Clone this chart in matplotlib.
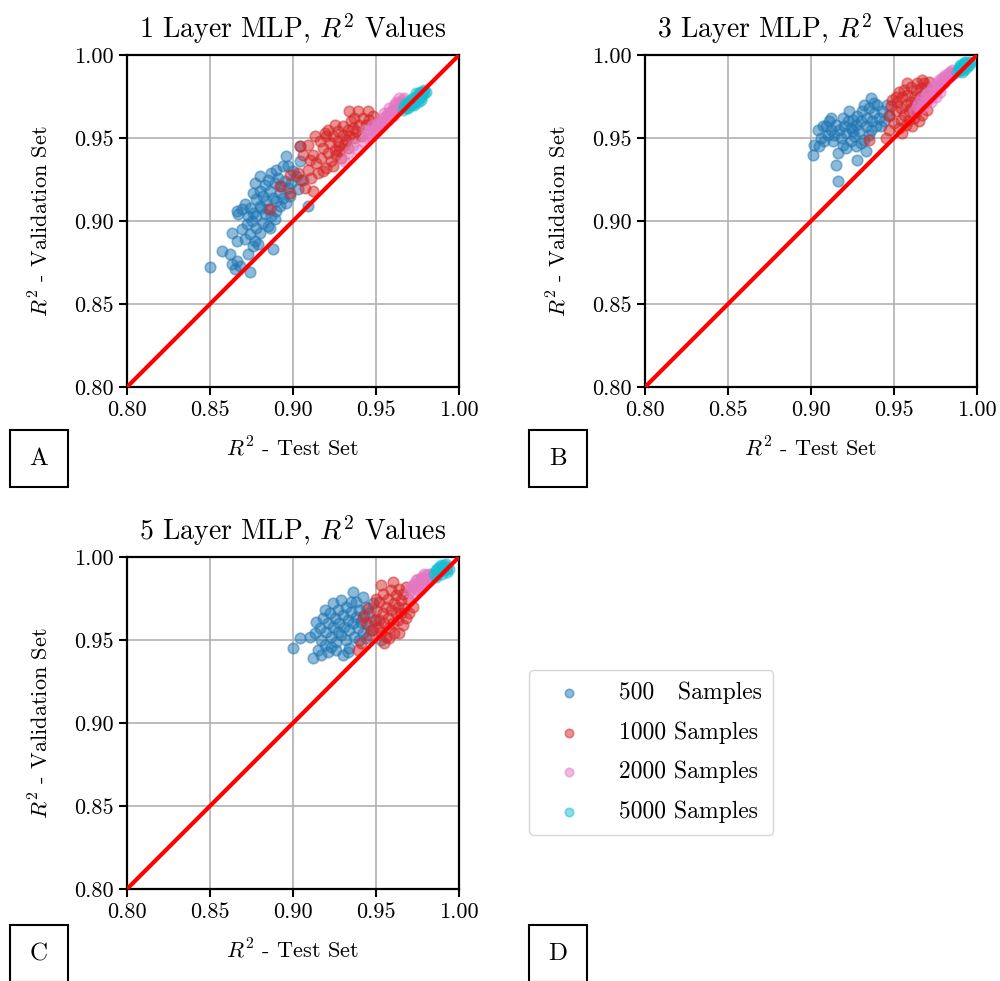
import numpy as np
import matplotlib
matplotlib.use("Agg")
import matplotlib.pyplot as plt
from matplotlib.patches import Rectangle

plt.rcParams.update({
    "font.family": "serif",
    "font.serif": ["cmr10", "DejaVu Serif"],
    "mathtext.fontset": "cm",
    "axes.unicode_minus": False,
    "axes.formatter.use_mathtext": True,
})

# (test R^2, validation R^2) pairs per model depth and training-set size
mlp1_500 = [
    (0.850, 0.872), (0.857, 0.882), (0.862, 0.880), (0.863, 0.874), (0.865, 0.871), (0.866, 0.876),
    (0.868, 0.873), (0.874, 0.869), (0.873, 0.880), (0.876, 0.885), (0.888, 0.883), (0.863, 0.893),
    (0.866, 0.888), (0.869, 0.895), (0.871, 0.889), (0.874, 0.892), (0.877, 0.888), (0.878, 0.896),
    (0.880, 0.893), (0.882, 0.899), (0.885, 0.897), (0.875, 0.900), (0.866, 0.906), (0.867, 0.904),
    (0.869, 0.907), (0.871, 0.910), (0.873, 0.903), (0.874, 0.908), (0.876, 0.905), (0.878, 0.903),
    (0.880, 0.909), (0.883, 0.904), (0.885, 0.907), (0.887, 0.903), (0.889, 0.901), (0.890, 0.906),
    (0.892, 0.909), (0.876, 0.917), (0.878, 0.913), (0.880, 0.918), (0.882, 0.915), (0.884, 0.912),
    (0.886, 0.918), (0.888, 0.914), (0.890, 0.912), (0.892, 0.917), (0.894, 0.914), (0.896, 0.911),
    (0.898, 0.915), (0.877, 0.923), (0.880, 0.927), (0.883, 0.922), (0.885, 0.925), (0.887, 0.929),
    (0.889, 0.923), (0.891, 0.926), (0.893, 0.921), (0.895, 0.924), (0.897, 0.920), (0.899, 0.923),
    (0.890, 0.931), (0.894, 0.933), (0.896, 0.939), (0.897, 0.933), (0.900, 0.930), (0.902, 0.927),
    (0.904, 0.936), (0.904, 0.945), (0.909, 0.909), (0.903, 0.919), (0.906, 0.925), (0.872, 0.898),
    (0.886, 0.896), (0.879, 0.886), (0.881, 0.908),
]
mlp1_1000 = [
    (0.886, 0.907), (0.892, 0.921), (0.898, 0.917), (0.898, 0.928), (0.903, 0.929), (0.905, 0.925),
    (0.907, 0.920), (0.909, 0.931), (0.912, 0.918), (0.911, 0.926), (0.904, 0.945), (0.909, 0.946),
    (0.912, 0.940), (0.914, 0.935), (0.915, 0.929), (0.917, 0.938), (0.918, 0.944), (0.920, 0.932),
    (0.921, 0.941), (0.922, 0.947), (0.923, 0.936), (0.924, 0.951), (0.925, 0.943), (0.926, 0.940),
    (0.927, 0.948), (0.928, 0.945), (0.929, 0.938), (0.930, 0.952), (0.931, 0.946), (0.932, 0.949),
    (0.921, 0.955), (0.920, 0.951), (0.925, 0.958), (0.927, 0.954), (0.930, 0.957), (0.933, 0.955),
    (0.934, 0.951), (0.935, 0.960), (0.936, 0.956), (0.938, 0.954), (0.934, 0.966), (0.939, 0.966),
    (0.945, 0.966), (0.942, 0.962), (0.940, 0.958), (0.944, 0.958), (0.946, 0.961), (0.948, 0.963),
    (0.937, 0.962), (0.941, 0.951), (0.916, 0.948), (0.913, 0.951), (0.919, 0.953), (0.928, 0.942),
    (0.924, 0.933), (0.918, 0.930), (0.910, 0.937), (0.933, 0.944), (0.937, 0.950), (0.906, 0.940),
]
mlp1_2000 = [
    (0.931, 0.936), (0.933, 0.941), (0.936, 0.946), (0.939, 0.943), (0.942, 0.948), (0.944, 0.955),
    (0.945, 0.950), (0.946, 0.953), (0.948, 0.955), (0.950, 0.957), (0.951, 0.959), (0.952, 0.956),
    (0.953, 0.960), (0.954, 0.962), (0.955, 0.960), (0.956, 0.963), (0.957, 0.965), (0.957, 0.961),
    (0.958, 0.964), (0.959, 0.966), (0.960, 0.967), (0.960, 0.963), (0.961, 0.968), (0.962, 0.966),
    (0.963, 0.969), (0.963, 0.971), (0.964, 0.968), (0.965, 0.972), (0.966, 0.970), (0.966, 0.973),
    (0.967, 0.974), (0.955, 0.965), (0.953, 0.957), (0.958, 0.968), (0.961, 0.970), (0.950, 0.954),
    (0.948, 0.958), (0.962, 0.972), (0.964, 0.974), (0.947, 0.951),
]
mlp1_5000 = [
    (0.966, 0.967), (0.967, 0.969), (0.968, 0.971), (0.969, 0.968), (0.970, 0.972), (0.970, 0.970),
    (0.971, 0.973), (0.972, 0.971), (0.972, 0.974), (0.973, 0.972), (0.974, 0.975), (0.974, 0.973),
    (0.975, 0.976), (0.975, 0.972), (0.976, 0.974), (0.976, 0.977), (0.977, 0.975), (0.977, 0.978),
    (0.978, 0.976), (0.978, 0.978), (0.979, 0.977), (0.979, 0.979), (0.980, 0.978), (0.973, 0.970),
    (0.975, 0.974), (0.971, 0.970), (0.969, 0.970), (0.977, 0.973), (0.968, 0.968), (0.974, 0.977),
]

mlp3_500 = [
    (0.901, 0.940), (0.902, 0.946), (0.905, 0.945), (0.906, 0.950), (0.904, 0.955), (0.907, 0.957),
    (0.909, 0.957), (0.910, 0.952), (0.911, 0.960), (0.912, 0.955), (0.913, 0.948), (0.914, 0.952),
    (0.915, 0.934), (0.916, 0.924), (0.916, 0.941), (0.915, 0.958), (0.917, 0.955), (0.918, 0.950),
    (0.919, 0.946), (0.920, 0.957), (0.921, 0.953), (0.922, 0.960), (0.923, 0.966), (0.924, 0.956),
    (0.925, 0.961), (0.926, 0.951), (0.927, 0.958), (0.928, 0.963), (0.928, 0.937), (0.929, 0.954),
    (0.930, 0.960), (0.931, 0.966), (0.932, 0.949), (0.933, 0.942), (0.933, 0.957), (0.934, 0.962),
    (0.935, 0.968), (0.936, 0.955), (0.936, 0.974), (0.937, 0.960), (0.938, 0.965), (0.939, 0.957),
    (0.940, 0.970), (0.941, 0.962), (0.942, 0.957), (0.943, 0.966), (0.944, 0.960), (0.946, 0.970),
    (0.947, 0.964), (0.925, 0.954), (0.930, 0.947), (0.919, 0.962), (0.912, 0.962), (0.924, 0.948),
    (0.935, 0.952), (0.938, 0.971), (0.927, 0.945), (0.921, 0.944), (0.908, 0.948), (0.932, 0.970),
]
mlp3_1000 = [
    (0.935, 0.949), (0.945, 0.950), (0.947, 0.955), (0.947, 0.963), (0.948, 0.969), (0.950, 0.959),
    (0.951, 0.966), (0.952, 0.972), (0.953, 0.956), (0.954, 0.961), (0.954, 0.968), (0.955, 0.975),
    (0.956, 0.979), (0.956, 0.964), (0.957, 0.958), (0.957, 0.970), (0.958, 0.976), (0.959, 0.966),
    (0.959, 0.961), (0.960, 0.972), (0.960, 0.981), (0.961, 0.968), (0.962, 0.975), (0.962, 0.962),
    (0.963, 0.979), (0.963, 0.971), (0.964, 0.983), (0.964, 0.966), (0.965, 0.960), (0.965, 0.975),
    (0.966, 0.980), (0.966, 0.970), (0.967, 0.985), (0.967, 0.964), (0.968, 0.977), (0.968, 0.983),
    (0.969, 0.972), (0.970, 0.967), (0.970, 0.980), (0.958, 0.983), (0.953, 0.978), (0.951, 0.975),
    (0.949, 0.973), (0.961, 0.957), (0.955, 0.953), (0.971, 0.984), (0.972, 0.976),
]
mlp3_2000 = [
    (0.962, 0.966), (0.964, 0.969), (0.965, 0.972), (0.966, 0.968), (0.967, 0.974), (0.968, 0.971),
    (0.969, 0.976), (0.970, 0.973), (0.971, 0.978), (0.972, 0.975), (0.973, 0.980), (0.974, 0.977),
    (0.974, 0.982), (0.975, 0.979), (0.976, 0.983), (0.977, 0.980), (0.977, 0.985), (0.978, 0.982),
    (0.979, 0.986), (0.979, 0.983), (0.980, 0.987), (0.981, 0.985), (0.981, 0.988), (0.982, 0.986),
    (0.983, 0.989), (0.983, 0.987), (0.984, 0.990), (0.985, 0.988), (0.985, 0.991), (0.986, 0.990),
    (0.970, 0.977), (0.975, 0.975), (0.978, 0.978), (0.972, 0.972), (0.980, 0.983),
]
mlp3_5000 = [
    (0.988, 0.990), (0.989, 0.992), (0.990, 0.991), (0.990, 0.993), (0.991, 0.992), (0.991, 0.994),
    (0.992, 0.993), (0.992, 0.995), (0.993, 0.994), (0.993, 0.992), (0.994, 0.995), (0.994, 0.993),
    (0.995, 0.996), (0.995, 0.994), (0.996, 0.995), (0.989, 0.991), (0.992, 0.991), (0.990, 0.994),
    (0.993, 0.996), (0.991, 0.990),
]

mlp5_500 = [
    (0.900, 0.945), (0.904, 0.951), (0.912, 0.939), (0.915, 0.944), (0.913, 0.954), (0.914, 0.961),
    (0.916, 0.957), (0.917, 0.950), (0.918, 0.963), (0.919, 0.947), (0.920, 0.955), (0.921, 0.943),
    (0.921, 0.960), (0.922, 0.966), (0.923, 0.952), (0.924, 0.972), (0.924, 0.958), (0.925, 0.963),
    (0.926, 0.949), (0.927, 0.955), (0.927, 0.968), (0.928, 0.960), (0.929, 0.953), (0.930, 0.941),
    (0.930, 0.965), (0.931, 0.958), (0.932, 0.970), (0.932, 0.950), (0.933, 0.962), (0.934, 0.945),
    (0.934, 0.956), (0.935, 0.967), (0.936, 0.979), (0.936, 0.960), (0.937, 0.952), (0.938, 0.964),
    (0.938, 0.973), (0.939, 0.957), (0.940, 0.968), (0.941, 0.961), (0.942, 0.976), (0.942, 0.954),
    (0.943, 0.965), (0.944, 0.970), (0.945, 0.959), (0.946, 0.966), (0.948, 0.972), (0.947, 0.956),
    (0.950, 0.962), (0.953, 0.950), (0.926, 0.944), (0.919, 0.968), (0.929, 0.974), (0.933, 0.943),
    (0.940, 0.950), (0.917, 0.941), (0.923, 0.946), (0.910, 0.952), (0.935, 0.973), (0.944, 0.951),
]
mlp5_1000 = [
    (0.939, 0.944), (0.941, 0.948), (0.942, 0.964), (0.944, 0.960), (0.946, 0.953), (0.948, 0.956),
    (0.949, 0.962), (0.950, 0.968), (0.951, 0.958), (0.952, 0.962), (0.952, 0.973), (0.953, 0.955),
    (0.954, 0.978), (0.954, 0.966), (0.955, 0.960), (0.956, 0.952), (0.956, 0.970), (0.957, 0.975),
    (0.957, 0.963), (0.958, 0.957), (0.959, 0.968), (0.959, 0.980), (0.960, 0.985), (0.960, 0.960),
    (0.961, 0.972), (0.961, 0.954), (0.962, 0.966), (0.962, 0.977), (0.963, 0.962), (0.963, 0.970),
    (0.964, 0.954), (0.964, 0.981), (0.965, 0.974), (0.965, 0.966), (0.966, 0.978), (0.966, 0.959),
    (0.967, 0.969), (0.968, 0.963), (0.969, 0.975), (0.970, 0.966), (0.955, 0.948), (0.958, 0.951),
    (0.945, 0.969), (0.950, 0.975), (0.972, 0.970), (0.968, 0.982), (0.953, 0.983),
]
mlp5_2000 = [
    (0.970, 0.979), (0.971, 0.982), (0.972, 0.978), (0.973, 0.984), (0.974, 0.981), (0.974, 0.986),
    (0.975, 0.983), (0.976, 0.985), (0.976, 0.980), (0.977, 0.987), (0.978, 0.984), (0.978, 0.988),
    (0.979, 0.986), (0.980, 0.989), (0.980, 0.985), (0.981, 0.987), (0.982, 0.990), (0.982, 0.986),
    (0.983, 0.988), (0.984, 0.990), (0.985, 0.989), (0.975, 0.987), (0.972, 0.983), (0.979, 0.990),
    (0.977, 0.982),
]
mlp5_5000 = [
    (0.985, 0.990), (0.986, 0.992), (0.987, 0.989), (0.987, 0.993), (0.988, 0.991), (0.988, 0.994),
    (0.989, 0.992), (0.990, 0.990), (0.990, 0.994), (0.991, 0.992), (0.991, 0.995), (0.992, 0.993),
    (0.993, 0.994), (0.993, 0.991), (0.994, 0.993), (0.986, 0.988), (0.989, 0.995), (0.992, 0.996),
]

sample_labels = ["500   Samples", "1000 Samples", "2000 Samples", "5000 Samples"]
colors = ["tab:blue", "tab:red", "tab:pink", "tab:cyan"]
titles = ["1 Layer MLP, $R^2$ Values", "3 Layer MLP, $R^2$ Values", "5 Layer MLP, $R^2$ Values"]
panels = [
    [mlp1_500, mlp1_1000, mlp1_2000, mlp1_5000],
    [mlp3_500, mlp3_1000, mlp3_2000, mlp3_5000],
    [mlp5_500, mlp5_1000, mlp5_2000, mlp5_5000],
]
ticks = [0.80, 0.85, 0.90, 0.95, 1.00]

fig = plt.figure(figsize=(10, 9.81), dpi=100)
axes_rects = [
    [0.127, 0.6055, 0.332, 0.3384],
    [0.645, 0.6055, 0.332, 0.3384],
    [0.127, 0.0938, 0.332, 0.3384],
]

handles = []
for i, (rect, title, series) in enumerate(zip(axes_rects, titles, panels)):
    ax = fig.add_axes(rect)
    for pts, col, lab in zip(series, colors, sample_labels):
        arr = np.array(pts)
        sc = ax.scatter(arr[:, 0], arr[:, 1], s=58, color=col, alpha=0.5,
                        linewidths=1.2, label=lab, zorder=2)
        if i == 0:
            handles.append(sc)
    ax.plot(ticks, ticks, color="red", lw=3, zorder=3)
    ax.set_xlim(0.80, 1.00)
    ax.set_ylim(0.80, 1.00)
    ax.set_xticks(ticks)
    ax.set_yticks(ticks)
    ax.set_xticklabels([f"{t:.2f}" for t in ticks])
    ax.set_yticklabels([f"{t:.2f}" for t in ticks])
    ax.tick_params(labelsize=16, width=1.5, length=6)
    ax.grid(True, color="#b0b0b0", lw=1.2, zorder=0)
    ax.set_axisbelow(True)
    for sp in ax.spines.values():
        sp.set_linewidth(1.6)
    ax.set_title(title, fontsize=20, pad=12)
    ax.set_xlabel("$R^2$ - Test Set", fontsize=16, labelpad=12)
    ax.set_ylabel("$R^2$ - Validation Set", fontsize=16, labelpad=16)

# panel letters in square boxes
W, H = 1000.0, 981.0
for letter, (x0, y0) in zip("ABCD", [(10, 430), (529, 430), (10, 925), (529, 925)]):
    fig.add_artist(Rectangle((x0 / W, 1 - (y0 + 57) / H), 58 / W, 57 / H,
                             transform=fig.transFigure, fill=False,
                             edgecolor="black", lw=1.5))
    fig.text((x0 + 29) / W, 1 - (y0 + 29) / H, letter, fontsize=18,
             ha="center", va="center")

fig.legend(handles=handles, loc="upper left", bbox_to_anchor=(0.529, 1 - 670 / H),
           borderaxespad=0, fontsize=17, handlelength=2.4, handletextpad=0.9,
           labelspacing=0.72, borderpad=0.5, frameon=True, markerscale=0.8)

fig.savefig("out.png", dpi=100)
